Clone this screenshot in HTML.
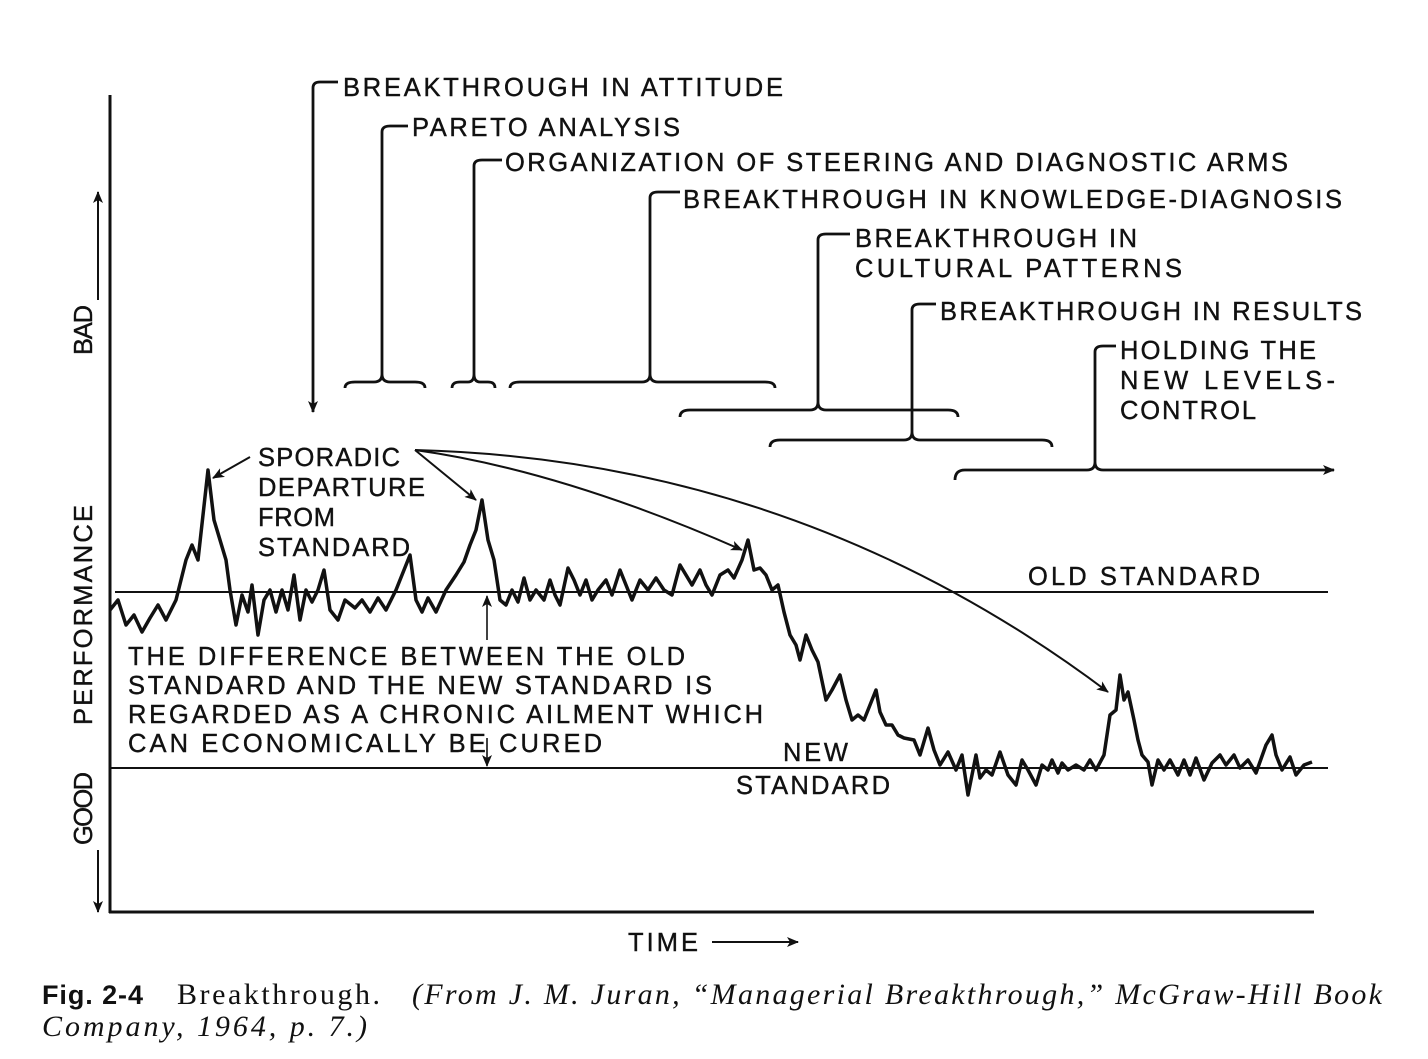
<!DOCTYPE html>
<html><head><meta charset="utf-8"><style>
html,body{margin:0;padding:0;background:#fff;}
svg{display:block;}
.t{font-family:"Liberation Sans",sans-serif;font-size:25.5px;fill:#111;stroke:#111;stroke-width:0.4;}
</style></head><body>
<svg width="1428" height="1059" viewBox="0 0 1428 1059" xmlns="http://www.w3.org/2000/svg">
<defs>
<marker id="ah" markerWidth="12" markerHeight="10" refX="11" refY="5" orient="auto" markerUnits="userSpaceOnUse">
<path d="M0,0 L12,5 L0,10 L3,5 Z" fill="#111"/></marker>
</defs>
<g stroke="#111" fill="none">
<line x1="110" y1="95" x2="110" y2="913" stroke-width="3"/>
<line x1="109" y1="912" x2="1314" y2="912" stroke-width="3"/>
<line x1="115" y1="592" x2="1328" y2="592" stroke-width="2"/>
<line x1="110" y1="768" x2="1328" y2="768" stroke-width="2"/>
<polyline stroke-width="3.5" stroke-linejoin="round" points="110,610 118,600 126,625 134,615 142,632 150,618 158,605 166,620 176,600 186,560 192,545 198,560 208,470 214,520 220,540 226,560 230,590 236,625 242,595 248,612 252,585 258,635 264,600 270,590 276,612 282,590 288,610 294,575 300,620 306,590 312,602 318,590 324,570 330,610 338,620 345,600 355,608 362,600 370,612 378,598 386,610 396,590 404,570 410,555 416,600 422,612 428,598 436,612 446,590 456,575 464,562 470,545 476,530 482,500 488,540 494,560 500,600 506,605 512,590 518,602 524,578 530,600 536,590 544,600 550,580 555,595 560,605 568,568 574,580 580,595 586,580 592,600 598,590 606,580 612,595 620,570 626,585 632,600 640,580 648,590 656,578 664,590 672,595 680,565 686,575 692,585 700,570 706,585 712,595 720,575 728,570 734,578 742,560 748,540 754,570 760,568 766,575 772,590 778,585 784,612 790,635 796,645 800,660 806,635 812,650 818,662 826,700 832,690 840,675 846,700 852,720 858,715 864,720 870,705 876,690 880,712 886,725 892,725 898,735 904,738 914,740 920,755 928,728 934,750 940,765 948,752 956,770 962,755 968,795 976,755 980,778 986,770 992,775 1000,752 1008,775 1016,785 1022,760 1028,770 1036,785 1042,765 1048,770 1052,760 1058,773 1062,763 1068,770 1076,765 1084,770 1090,760 1096,770 1104,755 1110,715 1116,710 1120,675 1124,700 1128,692 1134,720 1138,740 1142,755 1148,762 1152,785 1158,760 1164,770 1170,760 1178,775 1184,760 1190,775 1196,758 1204,780 1212,763 1220,755 1226,765 1234,755 1240,768 1248,760 1256,773 1266,745 1272,735 1276,755 1282,770 1290,757 1296,775 1304,765 1312,762"/>
<g stroke-width="2.8">
<path d="M313,88 Q313,82 320,82 L338,82"/>
<line x1="313" y1="88" x2="313" y2="412" marker-end="url(#ah)"/>
<path d="M345,388 Q345,382 355,382 L374,382 Q382,382 382,374 Q382,382 390,382 L415,382 Q425,382 425,388"/>
<path d="M382,374 L382,132 Q382,126 390,126 L408,126"/>
<path d="M452,388 Q452,382 460,382 L468,382 Q474,382 474,374 Q474,382 480,382 L488,382 Q495,382 495,388"/>
<path d="M474,374 L474,166 Q474,160 482,160 L502,160"/>
<path d="M510,388 Q510,382 520,382 L642,382 Q650,382 650,374 Q650,382 658,382 L765,382 Q775,382 775,388"/>
<path d="M650,374 L650,198 Q650,192 658,192 L680,192"/>
<path d="M680,417 Q680,410 690,410 L810,410 Q818,410 818,402 Q818,410 826,410 L948,410 Q958,410 958,417"/>
<path d="M818,402 L818,240 Q818,234 826,234 L850,234"/>
<path d="M770,447 Q770,440 780,440 L904,440 Q912,440 912,432 Q912,440 920,440 L1042,440 Q1052,440 1052,447"/>
<path d="M912,432 L912,310 Q912,304 920,304 L936,304"/>
<path d="M955,480 Q955,470 965,470 L1087,470 Q1095,470 1095,462 Q1095,470 1103,470 L1334,470" marker-end="url(#ah)"/>
<path d="M1095,462 L1095,352 Q1095,346 1103,346 L1116,346"/>
</g>
<g stroke-width="2">
<line x1="250" y1="457" x2="213" y2="478" marker-end="url(#ah)"/>
<line x1="415" y1="450" x2="476" y2="500" marker-end="url(#ah)"/>
<path d="M415,450 Q560,470 742,550" marker-end="url(#ah)"/>
<path d="M415,450 Q800,460 1108,692" marker-end="url(#ah)"/>
<line x1="487" y1="640" x2="487" y2="596" stroke-width="1.6" marker-end="url(#ah)"/>
<line x1="487" y1="738" x2="487" y2="766" stroke-width="1.6" marker-end="url(#ah)"/>
<line x1="712" y1="942" x2="798" y2="942" marker-end="url(#ah)"/>
<line x1="98" y1="300" x2="98" y2="192" marker-end="url(#ah)"/>
<line x1="98" y1="850" x2="98" y2="912" marker-end="url(#ah)"/>
</g>
</g>
<g class="t">
<text x="343" y="96" textLength="440">BREAKTHROUGH IN ATTITUDE</text>
<text x="412" y="136" textLength="268">PARETO ANALYSIS</text>
<text x="505" y="171" textLength="783">ORGANIZATION OF STEERING AND DIAGNOSTIC ARMS</text>
<text x="683" y="208" textLength="659">BREAKTHROUGH IN KNOWLEDGE-DIAGNOSIS</text>
<text x="855" y="247" textLength="282">BREAKTHROUGH IN</text>
<text x="855" y="277" textLength="327">CULTURAL PATTERNS</text>
<text x="940" y="320" textLength="422">BREAKTHROUGH IN RESULTS</text>
<text x="1120" y="359" textLength="196">HOLDING THE</text>
<text x="1120" y="389" textLength="215">NEW LEVELS-</text>
<text x="1120" y="419" textLength="136">CONTROL</text>
<text x="258" y="466" textLength="142">SPORADIC</text>
<text x="258" y="496" textLength="167">DEPARTURE</text>
<text x="258" y="526" textLength="77">FROM</text>
<text x="258" y="556" textLength="152">STANDARD</text>
<text x="1028" y="585" textLength="232">OLD STANDARD</text>
<text x="128" y="665" textLength="557">THE DIFFERENCE BETWEEN THE OLD</text>
<text x="128" y="694" textLength="584">STANDARD AND THE NEW STANDARD IS</text>
<text x="128" y="723" textLength="635">REGARDED AS A CHRONIC AILMENT WHICH</text>
<text x="128" y="752" textLength="474">CAN ECONOMICALLY BE CURED</text>
<text x="783" y="761" textLength="65">NEW</text>
<text x="736" y="794" textLength="154">STANDARD</text>
<text x="628" y="951" textLength="70">TIME</text>
<text transform="translate(92,725) rotate(-90)" textLength="220">PERFORMANCE</text>
<text transform="translate(92,355) rotate(-90)" textLength="50">BAD</text>
<text transform="translate(92,845) rotate(-90)" textLength="73">GOOD</text>
</g>
<g style="font-size:30px;fill:#111">
<text x="42" y="1004" textLength="101" style="font-family:'Liberation Sans',sans-serif;font-weight:bold;font-size:27px">Fig. 2-4</text>
<text x="177" y="1004" textLength="203" style="font-family:'Liberation Serif',serif">Breakthrough.</text>
<text x="412" y="1004" textLength="970" style="font-family:'Liberation Serif',serif;font-style:italic">(From J. M. Juran, “Managerial Breakthrough,” McGraw-Hill Book</text>
<text x="42" y="1036" textLength="325" style="font-family:'Liberation Serif',serif;font-style:italic">Company, 1964, p. 7.)</text>
</g>
</svg>
</body></html>
